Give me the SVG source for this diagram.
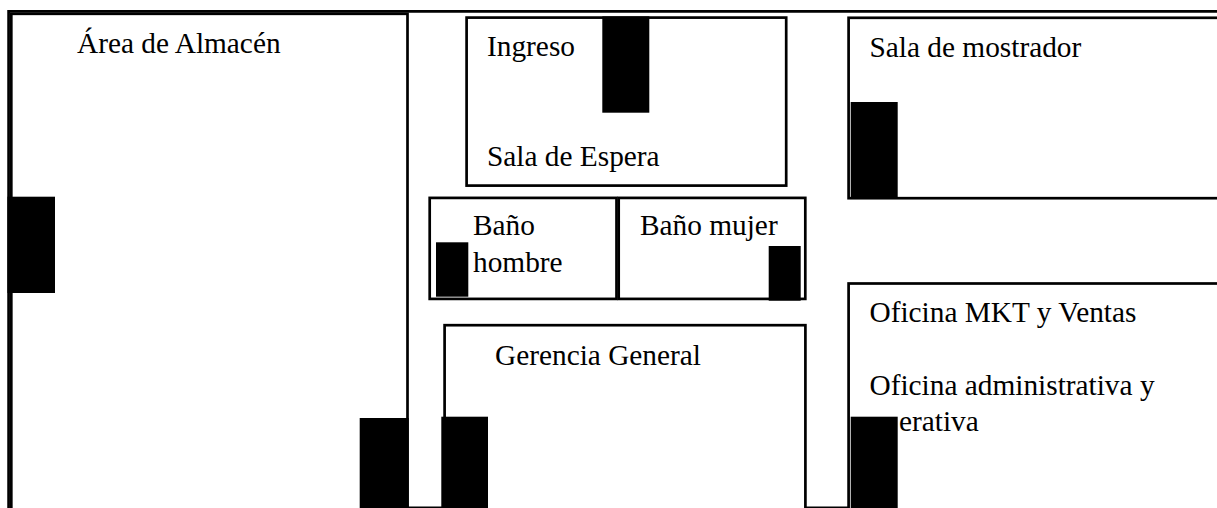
<svg xmlns="http://www.w3.org/2000/svg" width="1217" height="508" viewBox="0 0 1217 508">
<style>
.room{fill:#fff;stroke:#000;stroke-width:2.7}
.door{fill:#000}
.wall{fill:none;stroke:#000;stroke-width:2.7}
text{font-family:"Liberation Serif","Times New Roman",serif;font-size:29.33px;fill:#000}
</style>
<rect width="1217" height="508" fill="#fff"/>
<g id="connectors">
<path class="wall" d="M8.6 520V11.3H1230"/>
<path class="wall" d="M408 507.4H850" style="stroke-width:1.6"/>
</g>
<g id="almacen">
<rect class="room" x="11.3" y="13.8" width="396.2" height="520"/>
<text x="77" y="52.5">Área de Almacén</text>
<rect class="door" x="7.5" y="196.7" width="47.5" height="96.3"/>
<rect class="door" x="359.7" y="418" width="49" height="95"/>
</g>
<g id="ingreso">
<rect class="room" x="466.6" y="17.6" width="319.6" height="168"/>
<text x="487" y="56">Ingreso</text>
<text x="487" y="165.5">Sala de Espera</text>
<rect class="door" x="602.3" y="16.4" width="47" height="96.3"/>
</g>
<g id="sala-mostrador">
<rect class="room" x="848.6" y="17.8" width="400" height="180.4"/>
<text x="869.5" y="56.5">Sala de mostrador</text>
<rect class="door" x="850.7" y="102" width="47" height="96"/>
</g>
<g id="bano-hombre">
<rect class="room" x="429.7" y="197.9" width="186.8" height="101"/>
<text x="473" y="235">Baño</text>
<text x="473" y="272">hombre</text>
<rect class="door" x="436" y="242.3" width="32.3" height="54.4"/>
</g>
<g id="bano-mujer">
<rect class="room" x="618.7" y="197.9" width="186.6" height="101"/>
<text x="640" y="235">Baño mujer</text>
<rect class="door" x="768.7" y="246" width="32" height="54.7"/>
</g>
<g id="gerencia">
<rect class="room" x="444.6" y="325.2" width="360.8" height="200"/>
<text x="495" y="364.5">Gerencia General</text>
<rect class="door" x="441.3" y="416.7" width="46.7" height="96"/>
</g>
<g id="oficina">
<rect class="room" x="848.6" y="283.5" width="400" height="240"/>
<text x="869.5" y="321.5">Oficina MKT y Ventas</text>
<text x="869.5" y="394.5">Oficina administrativa y</text>
<text x="899" y="431">erativa</text>
<rect class="door" x="850.7" y="416.7" width="47" height="96"/>
</g>
</svg>
